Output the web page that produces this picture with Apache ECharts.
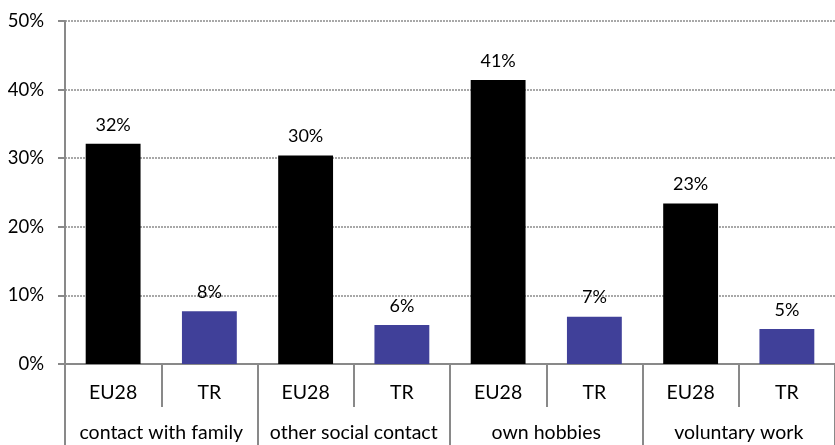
<!DOCTYPE html>
<html>
<head>
<meta charset="utf-8">
<script src="https://cdn.jsdelivr.net/npm/echarts@6/dist/echarts.min.js"></script>
<style>
html,body{margin:0;padding:0;background:#fff;}
#c{width:835px;height:445px;}
</style>
</head>
<body>
<div id="c"></div>
<script>
var groups = ['contact with family', 'other social contact', 'own hobbies', 'voluntary work'];
var seriesNames = ['EU28', 'TR'];
var eu28Values = [32.1, 30.4, 41.4, 23.4];
var trValues = [7.7, 5.7, 6.9, 5.1];
var yTicks = [0, 10, 20, 30, 40, 50];
var colors = { EU28: '#000000', TR: '#404099' };

var subCats = [];
var barData = [];
groups.forEach(function (g, i) {
  subCats.push(seriesNames[0], seriesNames[1]);
  barData.push({ value: eu28Values[i], itemStyle: { color: colors.EU28 } });
  barData.push({ value: trValues[i], itemStyle: { color: colors.TR } });
});

var FONT = 'Lato';
var chart = echarts.init(document.getElementById('c'));
chart.setOption({
  animation: false,
  textStyle: { fontFamily: FONT },
  grid: { left: 65, right: -2, top: 21, bottom: 81, containLabel: false },
  xAxis: [
    {
      type: 'category',
      data: subCats,
      axisLine: { show: true, lineStyle: { color: '#898989', width: 2 } },
      axisTick: { show: true, interval: 0, length: 43, lineStyle: { color: '#898989', width: 2 } },
      axisLabel: { interval: 0, margin: 19, color: '#000', fontSize: 19.5, fontFamily: FONT },
      splitLine: { show: false }
    },
    {
      type: 'category',
      data: groups,
      position: 'bottom',
      axisLine: { show: false },
      axisTick: { show: true, interval: 0, length: 84, lineStyle: { color: '#898989', width: 2 } },
      axisLabel: { interval: 0, margin: 59, color: '#000', fontSize: 19.5, fontFamily: FONT },
      splitLine: { show: false }
    }
  ],
  yAxis: {
    type: 'value',
    min: yTicks[0],
    max: yTicks[yTicks.length - 1],
    interval: 10,
    axisLine: { show: true, lineStyle: { color: '#898989', width: 2 } },
    axisTick: { show: true, length: 7, lineStyle: { color: '#898989', width: 2 } },
    axisLabel: { formatter: '{value}%', margin: 21, color: '#000', fontSize: 18.5, fontFamily: FONT },
    splitLine: { show: true, lineStyle: { color: '#8c8c8c', width: 1.5, type: [2, 1] } }
  },
  series: [
    {
      type: 'bar',
      xAxisIndex: 0,
      barWidth: '57%',
      data: barData,
      label: {
        show: true,
        position: 'top',
        distance: 10,
        color: '#000',
        fontSize: 18,
        fontFamily: FONT,
        formatter: function (p) { return Math.round(p.value) + '%'; }
      }
    }
  ]
});
</script>
</body>
</html>
